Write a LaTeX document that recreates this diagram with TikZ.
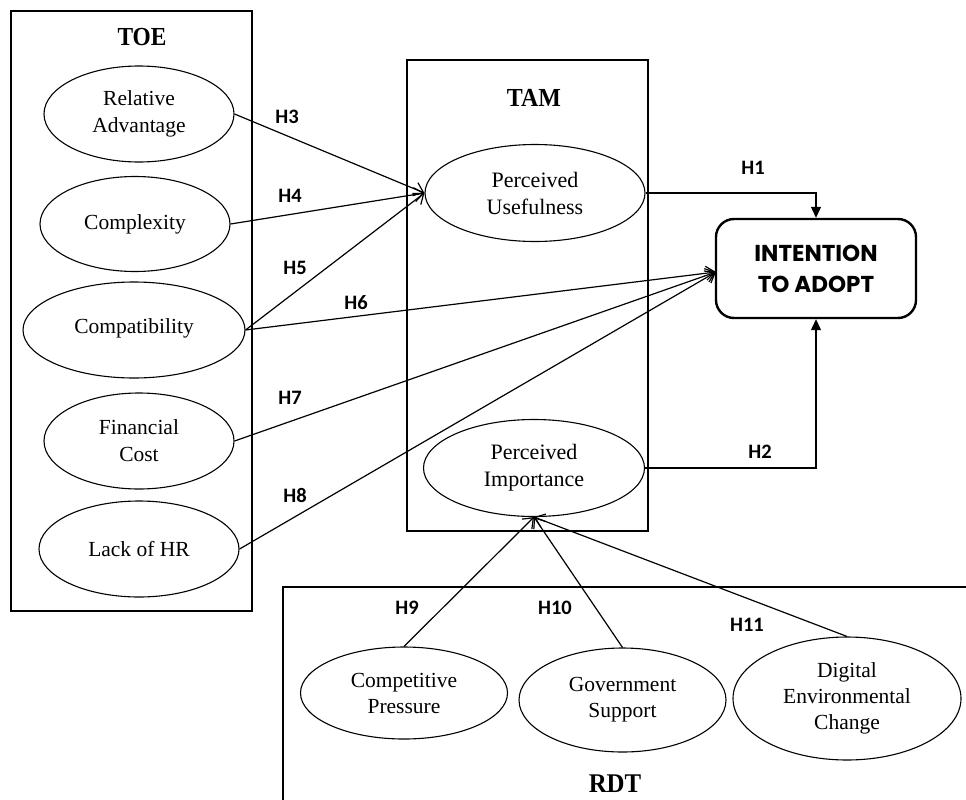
\documentclass[tikz,border=0pt]{standalone}
\usepackage{fontspec}
\setmainfont{Liberation Serif}
\newfontfamily\hfont{Carlito}
\newfontfamily\popfont{Poppins}
\newfontfamily\toefont[FakeStretch=0.9]{Liberation Serif}
\newfontfamily\tamfont[FakeStretch=0.92]{Liberation Serif}
\usetikzlibrary{shapes.geometric,arrows.meta}
\begin{document}
\begin{tikzpicture}[x=1pt,y=-1pt,
  ell/.style={draw, ellipse, line width=1.1pt, inner sep=0pt, align=center},
  toetext/.style={font=\fontsize{21.5}{27}\selectfont},
  tamtext/.style={font=\fontsize{22}{27}\selectfont},
  rdttext/.style={font=\fontsize{21.5}{26}\selectfont},
  frame/.style={draw, line width=2.4pt},
  title/.style={font=\tamfont\bfseries\fontsize{26}{30}\selectfont},
  hlab/.style={font=\hfont\bfseries\fontsize{20.5}{24}\selectfont, inner sep=0pt},
  conn/.style={line width=1.2pt},
  openarr/.style={conn, -{Straight Barb[length=9pt,width=14pt,line width=1.2pt]}},
  fillarr/.style={conn, -{Triangle[length=11pt,width=10pt]}}
]
\useasboundingbox (0,0) rectangle (966,800);
% frames
\path[frame] (11,11) rectangle (252,611);
\path[frame] (407,60) rectangle (648,531);
\path[frame] (283,803) -- (283,587) -- (970,587);
% titles
\node[font=\toefont\bfseries\fontsize{26}{30}\selectfont] (toe) at (142,37) {TOE};
\node[title] (tam) at (534,98) {TAM};
\node[font=\tamfont\bfseries\fontsize{27}{30}\selectfont] (rdt) at (615,784) {RDT};
% TOE constructs
\node[ell, toetext, minimum width=190pt, minimum height=96pt] (ra) at (139,114) {Relative\\Advantage};
\node[ell, toetext, minimum width=190pt, minimum height=95pt] (cx) at (135,224) {Complexity};
\node[ell, toetext, minimum width=222pt, minimum height=96pt] (cp) at (134,330) {\raisebox{7pt}{Compatibility}};
\node[ell, toetext, minimum width=190pt, minimum height=96pt] (fc) at (139,441) {Financial\\Cost};
\node[ell, toetext, minimum width=200pt, minimum height=96pt] (hr) at (139,549) {Lack of HR};
% TAM constructs
\node[ell, tamtext, minimum width=220pt, minimum height=97pt] (pu) at (535,193) {Perceived\\Usefulness};
\node[ell, tamtext, minimum width=221pt, minimum height=97pt] (pi) at (534,468) {Perceived\\Importance};
% outcome
\node[draw, line width=2.4pt, rounded corners=18pt, minimum width=200pt, minimum height=99pt, align=center,
      font=\popfont\bfseries\fontsize{23}{31}\selectfont] (it) at (816,268.5) {INTENTION\\TO ADOPT};
\coordinate (itin) at (716,272);
% RDT constructs
\node[ell, rdttext, minimum width=207pt, minimum height=92pt] (cpr) at (404,693) {Competitive\\Pressure};
\node[ell, rdttext, minimum width=207pt, minimum height=104pt] (gs) at (622.5,700) {Government\\Support};
\node[ell, rdttext, minimum width=228pt, minimum height=123pt] (dec) at (847,698.5) {Digital\\Environmental\\Change};
% connectors
\draw[fillarr] (pu.east) -| (it.north);
\draw[fillarr] (pi.east) -| (it.south);
\draw[openarr] (ra.east) -- (pu.west);
\draw[openarr] (cx.east) -- (pu.west);
\draw[openarr] (cp.east) -- (pu.west);
\draw[openarr] (cp.east) -- (itin);
\draw[openarr] (fc.east) -- (itin);
\draw[openarr] (hr.east) -- (itin);
\draw[openarr] (cpr.north) -- (pi.south);
\draw[openarr] (gs.north) -- (pi.south);
\draw[openarr] (dec.north) -- (pi.south);
% labels
\node[hlab] (h1) at (753,168) {H1};
\node[hlab] (h2) at (760,452) {H2};
\node[hlab] (h3) at (287,117) {H3};
\node[hlab] (h4) at (290,196) {H4};
\node[hlab] (h5) at (295,268) {H5};
\node[hlab] (h6) at (356,303) {H6};
\node[hlab] (h7) at (290,398) {H7};
\node[hlab] (h8) at (295,495) {H8};
\node[hlab] (h9) at (407,608) {H9};
\node[hlab] (h10) at (555,608) {H10};
\node[hlab] (h11) at (747,625) {H11};
\end{tikzpicture}
\end{document}
